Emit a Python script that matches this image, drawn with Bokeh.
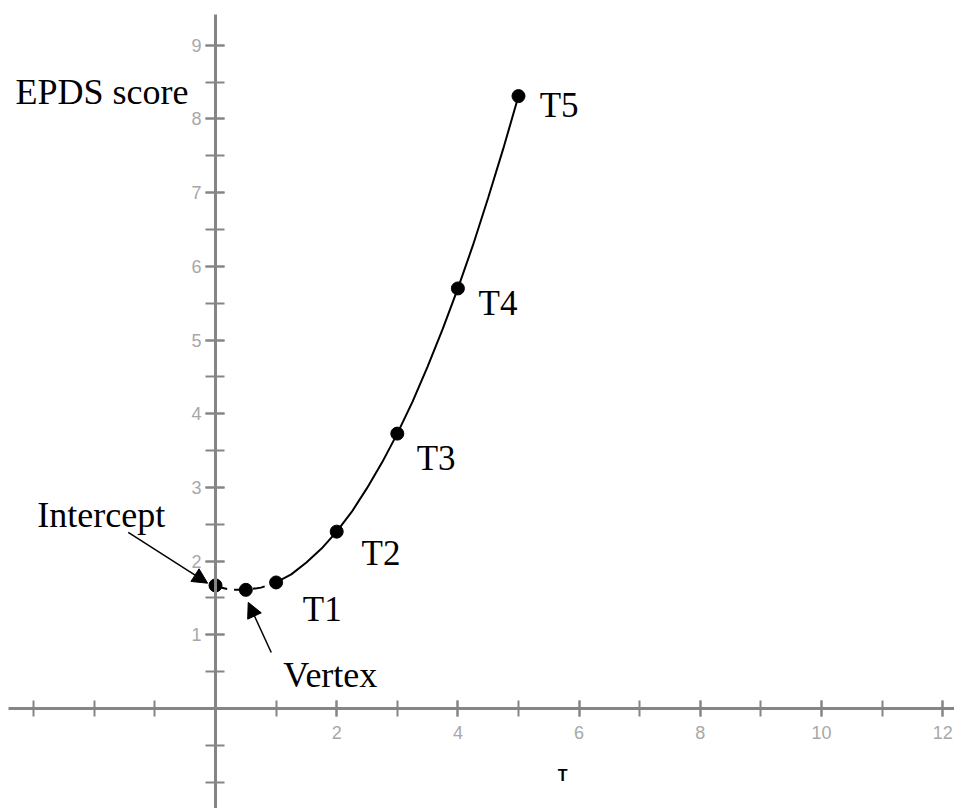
from bokeh.plotting import figure
from bokeh.models import LinearAxis, FixedTicker, Label, Arrow, NormalHead, Range1d
from bokeh.embed import file_html
from bokeh.resources import INLINE

# Marked points (T = time point)
point_x = [0, 0.5, 1, 2, 3, 4, 5]
point_y = [1.67, 1.61, 1.71, 2.40, 3.73, 5.70, 8.31]

# Fitted curve
curve_x = [0, 0.25, 0.5, 0.75, 1.0, 1.25, 1.5, 1.75, 2.0, 2.25, 2.5, 2.75,
           3.0, 3.25, 3.5, 3.75, 4.0, 4.25, 4.5, 4.75, 5.0]
curve_y = [1.66, 1.61, 1.61, 1.64, 1.71, 1.82, 1.98, 2.17, 2.40, 2.67, 2.99, 3.34,
           3.73, 4.16, 4.64, 5.15, 5.70, 6.29, 6.93, 7.60, 8.31]

# Ticks
x_major = [2, 4, 6, 8, 10, 12]
x_minor = [-3, -2, -1, 1, 2, 3, 4, 5, 6, 7, 8, 9, 10, 11, 12]
y_major = [1, 2, 3, 4, 5, 6, 7, 8, 9]
y_minor = [-1, -0.5, 0.5, 1, 1.5, 2, 2.5, 3, 3.5, 4, 4.5, 5, 5.5, 6, 6.5, 7, 7.5, 8, 8.5, 9]

# Text annotations
point_labels = ["T1", "T2", "T3", "T4", "T5"]
label_x = [1.44, 2.41, 3.32, 4.34, 5.35]
label_y = [1.34, 2.10, 3.39, 5.50, 8.18]

X0, X1 = -3.548, 12.195
Y0, Y1 = -1.357, 9.607

p = figure(width=954, height=808, output_backend="svg", toolbar_location=None,
           x_axis_type=None, y_axis_type=None,
           x_range=Range1d(X0, X1), y_range=Range1d(Y0, Y1),
           min_border=0, min_border_left=0, min_border_right=0,
           min_border_top=0, min_border_bottom=0)
p.outline_line_color = None
p.background_fill_color = "white"
p.border_fill_color = "white"

axis_color = "#858585"
lab_color = "#a8a8a8"

xaxis = LinearAxis(fixed_location=0, ticker=FixedTicker(ticks=x_major, minor_ticks=x_minor),
                   bounds=(X0 + 0.13, X1))
xaxis.axis_line_color = axis_color
xaxis.axis_line_width = 3
xaxis.major_tick_line_color = axis_color
xaxis.minor_tick_line_color = axis_color
xaxis.major_tick_line_width = 2
xaxis.minor_tick_line_width = 2
xaxis.major_tick_in = 8
xaxis.major_tick_out = 8
xaxis.minor_tick_in = 8
xaxis.minor_tick_out = 8
xaxis.major_label_standoff = 10
xaxis.major_label_text_color = lab_color
xaxis.major_label_text_font = "Liberation Sans"
xaxis.major_label_text_font_size = "18px"
p.add_layout(xaxis, "below")

yaxis = LinearAxis(fixed_location=0, ticker=FixedTicker(ticks=y_major, minor_ticks=y_minor),
                   bounds=(Y0, 9.42))
yaxis.axis_line_color = axis_color
yaxis.axis_line_width = 3
yaxis.major_tick_line_color = axis_color
yaxis.minor_tick_line_color = axis_color
yaxis.major_tick_line_width = 2
yaxis.minor_tick_line_width = 2
yaxis.major_tick_in = 9
yaxis.major_tick_out = 10
yaxis.minor_tick_in = 9
yaxis.minor_tick_out = 10
yaxis.major_label_standoff = 4
yaxis.major_label_text_color = lab_color
yaxis.major_label_text_font = "Liberation Sans"
yaxis.major_label_text_font_size = "18px"
p.add_layout(yaxis, "left")

# Curve: dashed up to T1, solid afterwards
k = curve_x.index(1.0)
p.line(curve_x[:k + 1], curve_y[:k + 1], line_color="black", line_width=2, line_dash="12 7")
p.line(curve_x[k:], curve_y[k:], line_color="black", line_width=2)

p.scatter(point_x, point_y, size=13, fill_color="black", line_color="black")

serif = "Liberation Serif"
fs = "35px"
for t, lx, ly in zip(point_labels, label_x, label_y):
    p.add_layout(Label(x=lx, y=ly, text=t, text_font=serif, text_font_size=fs,
                       text_color="black", text_baseline="alphabetic"))

p.add_layout(Label(x=-3.30, y=8.37, text="EPDS score", text_font=serif, text_font_size="36px",
                   text_color="black", text_baseline="alphabetic"))
p.add_layout(Label(x=-2.94, y=2.62, text="Intercept", text_font=serif, text_font_size="36px",
                   text_color="black", text_baseline="alphabetic"))
p.add_layout(Label(x=1.12, y=0.45, text="Vertex", text_font=serif, text_font_size="36px",
                   text_color="black", text_baseline="alphabetic"))
p.add_layout(Label(x=5.73, y=-0.91, text="T", text_font="Liberation Sans", text_font_size="16px",
                   text_font_style="bold", text_color="black", text_align="center",
                   text_baseline="middle"))

p.add_layout(Arrow(end=NormalHead(size=15, fill_color="black", line_color="black"),
                   x_start=-1.44, y_start=2.39, x_end=-0.13, y_end=1.70,
                   line_color="black", line_width=1.5))
p.add_layout(Arrow(end=NormalHead(size=15, fill_color="black", line_color="black"),
                   x_start=0.92, y_start=0.76, x_end=0.54, y_end=1.44,
                   line_color="black", line_width=1.5))

open("out.html", "w").write(file_html(p, INLINE))
